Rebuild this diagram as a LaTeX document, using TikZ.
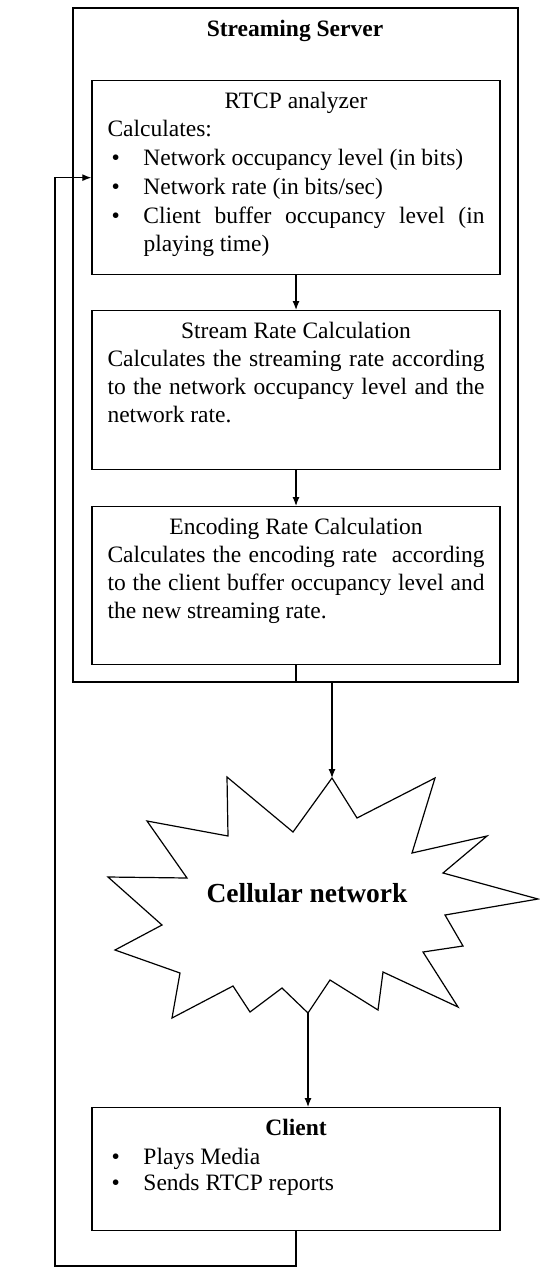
\documentclass[tikz,border=0pt]{standalone}
\usepackage{fontspec}
\setmainfont{Liberation Serif}
\usepackage{tikz}
\usetikzlibrary{arrows.meta}

\begin{document}
\begin{tikzpicture}[x=1pt, y=-1pt, >={Latex[length=9pt,width=7pt]},
    block/.style={draw, line width=1.3pt, inner xsep=15.5pt, inner ysep=12pt, minimum width=408pt},
    every node/.style={font=\fontsize{23.5}{28}\selectfont}]
    \useasboundingbox (0,0) rectangle (539,1281);

    % server box and its parts
    \node[draw, line width=1.3pt, minimum width=445pt, minimum height=674pt] at (295.5,345) (server) {};
    \node at (295,31) (servertitle) {\bfseries Streaming Server};

    \node[block, anchor=north] at (296,80) (rtcp) {\parbox[c][170pt][t]{377pt}{\raggedright
        \makebox[377pt]{RTCP analyzer}\\
        Calculates:\\[1pt]
        \hspace*{4pt}\makebox[32pt][l]{\textbullet}Network occupancy level (in bits)\\[1pt]
        \hspace*{4pt}\makebox[32pt][l]{\textbullet}Network rate (in bits/sec)\\[1pt]
        \hspace*{4pt}\makebox[32pt][l]{\textbullet}\makebox[341pt][s]{Client buffer occupancy level (in}\\
        \hspace*{36pt}playing time)}};

    \node[block, anchor=north] at (296,310) (stream) {\parbox[c][135pt][t]{377pt}{\raggedright
        \makebox[377pt]{Stream Rate Calculation}\\
        \makebox[377pt][s]{Calculates the streaming rate according}\\
        \makebox[377pt][s]{to the network occupancy level and the}\\
        network rate.}};

    \node[block, anchor=north] at (296,506) (enc) {\parbox[c][134pt][t]{377pt}{\raggedright
        \makebox[377pt]{Encoding Rate Calculation}\\
        \makebox[377pt][s]{Calculates the encoding rate \ according}\\
        \makebox[377pt][s]{to the client buffer occupancy level and}\\
        the new streaming rate.}};

    % cellular network
    \coordinate (startop) at (332,778);
    \coordinate (starbot) at (308,1013);
    \draw[line width=1.2pt, line join=miter] (startop) -- (357,818) -- (435,778) -- (412,853)
        -- (487,836) -- (443,873) -- (538,899) -- (445,915) -- (463,946) -- (423,952)
        -- (458,1007) -- (383,972) -- (378,1010) -- (330,980) -- (starbot) -- (282,988)
        -- (250,1012) -- (233,986) -- (172,1018) -- (180,973) -- (115,950) -- (162,925)
        -- (108,877) -- (187,878) -- (147,821) -- (228,836) -- (227,777) -- (293,832) -- cycle;
    \node[font=\fontsize{27.5}{32}\selectfont\bfseries] at (307,893) (cell) {Cellular network};

    % client
    \node[block, anchor=north] at (296,1107) (client) {\parbox[c][99pt][t]{377pt}{\raggedright
        \makebox[377pt]{\bfseries Client}\\[1pt]
        \hspace*{4pt}\makebox[32pt][l]{\textbullet}Plays Media\\[-2pt]
        \hspace*{4pt}\makebox[32pt][l]{\textbullet}Sends RTCP reports}};

    % connectors
    \coordinate (loop) at (55,1266);
    \draw[->, line width=1.2pt] (rtcp) -- (stream);
    \draw[->, line width=1.2pt] (stream) -- (enc);
    \draw[->, line width=1.2pt] (enc.south) -- (enc.south |- server.south) -| (startop);
    \draw[->, line width=1.2pt] (starbot) -- (starbot |- client.north);
    \draw[->, line width=1.2pt] (client.south) |- (loop) |- (rtcp.west);
\end{tikzpicture}
\end{document}
